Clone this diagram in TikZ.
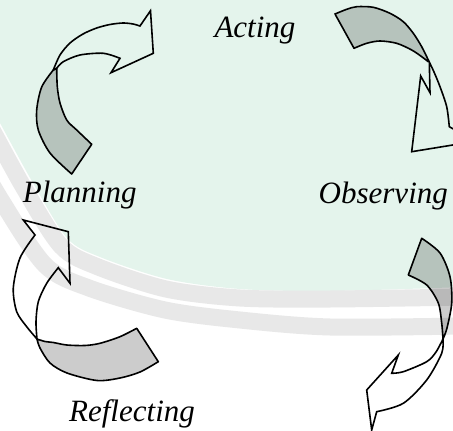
\documentclass[tikz,border=0pt]{standalone}
\usepackage{fontspec}
\setmainfont{Liberation Serif}
\definecolor{mint}{RGB}{228,244,236}
\definecolor{wmgrey}{RGB}{232,232,232}
\tikzset{
  stagetext/.style={font=\fontsize{31}{37}\selectfont\itshape, inner sep=0pt, anchor=base},
  backface/.style={draw=black, fill=black, fill opacity=0.2, line width=1.6pt, line join=round},
  frontface/.style={draw=black, line width=1.6pt},
  wmband/.style={wmgrey, line width=17pt}
}
\begin{document}
\begin{tikzpicture}[x=1pt,y=-1pt]
\useasboundingbox (0,0) rectangle (453,431);
\clip (0,0) rectangle (453,431);
\fill[white] (0,0) rectangle (453,431);
% background tint
\fill[mint] (-10,-10) -- (463,-10) -- plot[smooth] coordinates {(463,287) (330,291) (240,289) (167,279) (100,257) (67,238) (33,183) (0,123) (-10,105)} -- cycle;
\draw[wmband] plot[smooth] coordinates {(463,297) (330,299) (240,298) (166,289) (97,266.5) (61,246) (24,188) (-9,128) (-19,110)};
\draw[wmband] plot[smooth] coordinates {(463,326) (330,327) (240,320) (165,310) (89,288) (45,265) (1,200) (-32,142)};
% planning -> acting
\draw[backface] plot[smooth] coordinates {(71.7,174) (50,153) (38.3,130) (36.7,110) (41.7,87) (53.3,70)} -- plot[smooth] coordinates {(56.7,68.3) (57.3,86.7) (60,103) (66.7,120) (76.7,130) (91.7,144.3)} -- cycle;
\draw[frontface] plot[smooth] coordinates {(53.3,70) (60,55) (70,43) (83,34) (96.7,28) (110,24.5) (123,23) (133,24) (140,26)} -- (150.5,10.7) -- (153.3,53.3) -- (111,72.7) -- plot[smooth] coordinates {(120,58.3) (103.3,53.3) (80,55) (63.3,61.7) (56.7,68.3)} -- cycle;
% acting -> observing
\draw[backface] plot[smooth] coordinates {(335,14) (346.7,9.3) (356.7,6.7) (373.3,7.3) (390,13.3) (403.3,21.7) (413.3,33.3) (421.7,46.7) (428.3,60)} -- plot[smooth] coordinates {(428.3,61.7) (421.7,56.7) (411.7,50) (396.7,43.3) (380,41) (366.7,43.3) (354,48.3)} -- cycle;
\draw[frontface] plot[smooth] coordinates {(428.3,60) (434,72) (440,86.7) (446.7,106.7) (449.3,126.7)} -- (462,134) -- (462,143.5) -- (411.7,151.7) -- (420.7,76) -- (430,92.7) -- (429.3,62) -- cycle;
% observing -> reflecting
\draw[backface] plot[smooth] coordinates {(421.7,238.3) (440,253) (450,276.7) (451.7,303) (447,328) (443,339)} -- plot[smooth] coordinates {(443,339) (441.7,323) (438.3,303) (426.7,285) (408.3,275)} -- cycle;
\draw[frontface] plot[smooth] coordinates {(443,339) (436,352) (426.7,361.7) (403.3,371.7) (391.7,373.3)} -- (398.3,355) -- (366.7,390) -- (371.7,430) -- plot[smooth] coordinates {(376.7,411.7) (403.3,403.3) (426.7,380) (441.7,353.3) (443,339)} -- cycle;
% reflecting -> planning
\draw[backface] plot[smooth] coordinates {(37,339) (45,341.5) (53.3,342.5) (66.7,345) (85,345.5) (100,343.3) (120,336.7) (136.7,328.3)} -- plot[smooth] coordinates {(158.3,361.7) (140,372) (120,378) (97,380.5) (67,373) (50,363) (40,348) (37,339)} -- cycle;
\draw[frontface] plot[smooth] coordinates {(37,339) (26.7,326.7) (16.7,311.7) (13.3,288) (20,258) (35,235)} -- (23.3,220) -- (68.3,231.7) -- (70,283.3) -- plot[smooth] coordinates {(58.3,267.7) (46.7,283.3) (38.3,301.7) (36,321.7) (37,339)} -- cycle;
% stages
\node[stagetext] (acting) at (255,37) {Acting};
\node[stagetext] (planning) at (79.7,202) {Planning};
\node[stagetext] (observing) at (383.3,203) {Observing};
\node[stagetext] (reflecting) at (132,421) {Reflecting};
\end{tikzpicture}
\end{document}
